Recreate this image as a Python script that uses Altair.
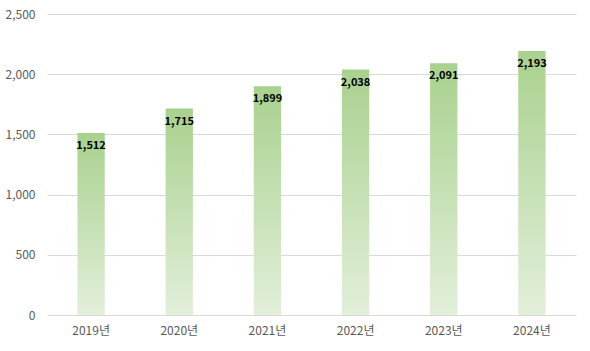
import altair as alt
import pandas as pd

years = ["2019년", "2020년", "2021년", "2022년", "2023년", "2024년"]
values = [1512, 1715, 1899, 2038, 2091, 2193]

df = pd.DataFrame({"year": years, "value": values})

font = "Noto Sans CJK KR"

base = alt.Chart(df).encode(
    x=alt.X("year:N", sort=years, title=None,
            scale=alt.Scale(paddingInner=0.69, paddingOuter=0.345),
            axis=alt.Axis(labelAngle=0, labelColor="#595959", labelFontSize=12,
                          labelFont=font, domain=False, ticks=False, grid=False,
                          labelPadding=10)),
    y=alt.Y("value:Q", title=None,
            scale=alt.Scale(domain=[0, 2500]),
            axis=alt.Axis(values=[0, 500, 1000, 1500, 2000, 2500], format=",.0f",
                          labelColor="#595959", labelFontSize=12, labelFont=font,
                          domain=False, ticks=False, labelPadding=12,
                          gridColor="#d9d9d9", gridWidth=1)),
)

bars = base.mark_bar(
    color=alt.Gradient(
        gradient="linear",
        stops=[alt.GradientStop(color="#a9d18e", offset=0),
               alt.GradientStop(color="#e2efda", offset=1)],
        x1=0, x2=0, y1=0, y2=1,
    )
)

labels = base.mark_text(baseline="top", dy=7, fontWeight="bold", fontSize=11,
                        font=font, color="#000000").encode(
    text=alt.Text("value:Q", format=",.0f")
)

chart = (bars + labels).properties(
    width=529, height=301,
    background="white",
    autosize=alt.AutoSizeParams(type="none"),
    padding={"left": 47, "top": 14, "right": 14, "bottom": 36},
).configure_view(strokeWidth=0)

chart.save("out.html", embed_options={"renderer": "svg", "actions": False})
